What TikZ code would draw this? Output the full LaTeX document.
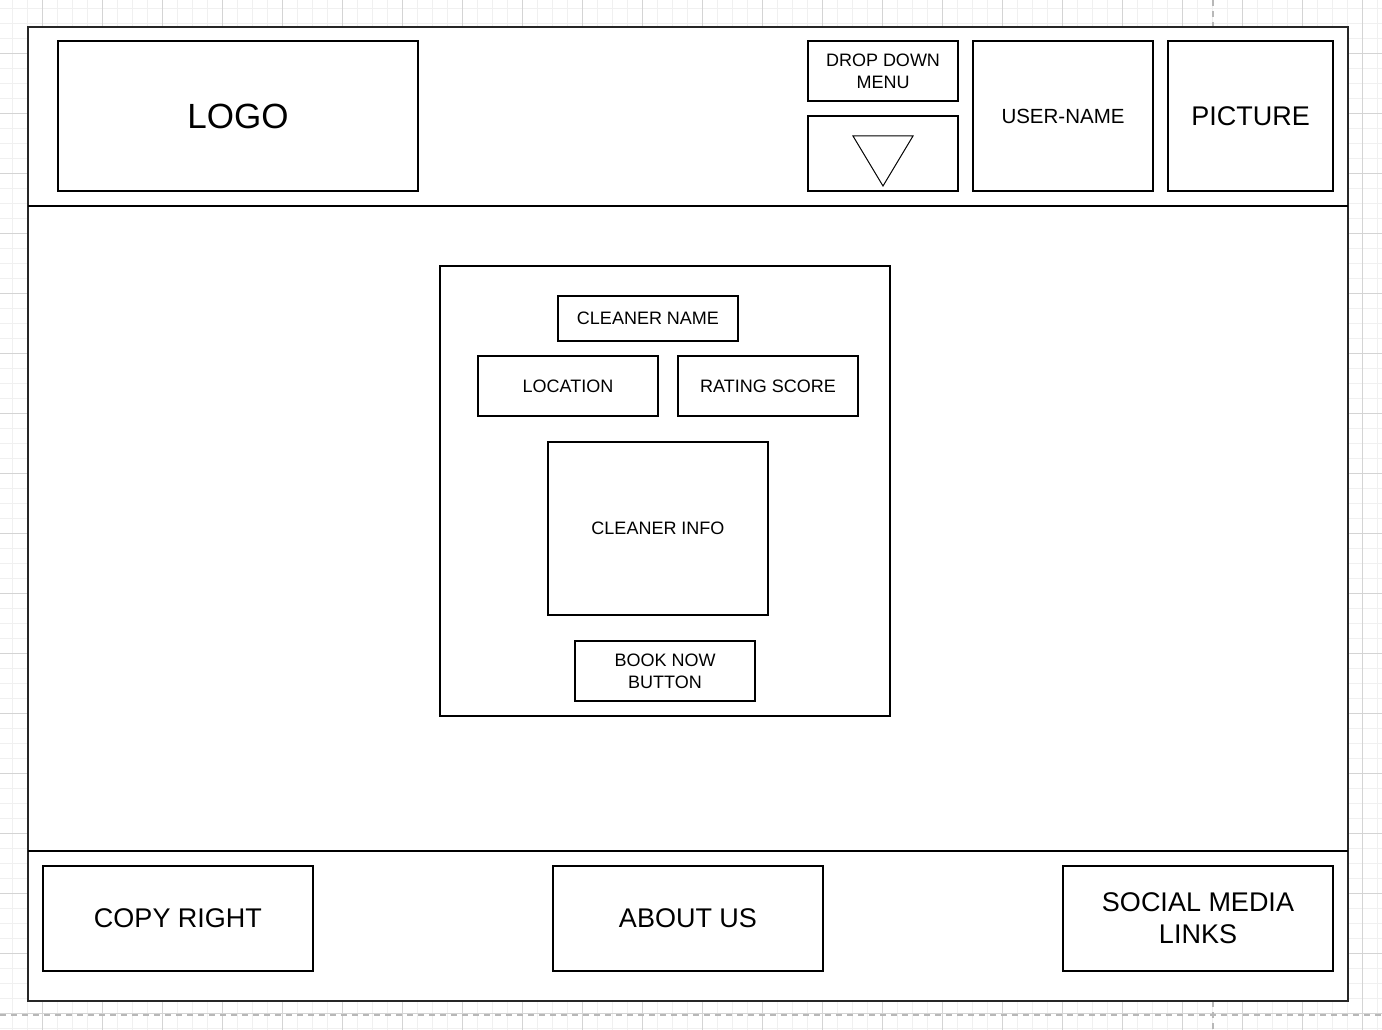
\documentclass[tikz,border=0pt]{standalone}
\usepackage{fontspec}
\setmainfont{Liberation Sans}
\begin{document}
\begin{tikzpicture}[x=1pt,y=-1pt,
  wbox/.style={draw=black, line width=1.2pt, fill=white, inner sep=0pt, outer sep=0pt, align=center},
  fs18/.style={font=\fontsize{18}{22}\selectfont},
  fs21/.style={font=\fontsize{20.5}{24}\selectfont},
  fs27/.style={font=\fontsize{27}{32}\selectfont},
  fs35/.style={font=\fontsize{35}{40}\selectfont},
  minorgrid/.style={draw=black!6, line width=0.8pt},
  majorgrid/.style={draw=black!17, line width=0.8pt},
  pageline/.style={draw=black!28, line width=1.2pt, dash pattern=on 6pt off 5pt}]
\useasboundingbox (0,0) rectangle (1382,1030);
\fill[white] (0,0) rectangle (1382,1030);
% grid
\foreach \gx in {12,27,...,1382} \draw[minorgrid] (\gx,0) -- (\gx,1030);
\foreach \gy in {8,23,...,1030} \draw[minorgrid] (0,\gy) -- (1382,\gy);
\foreach \gx in {42,102,...,1382} \draw[majorgrid] (\gx,0) -- (\gx,1030);
\foreach \gy in {53,113,...,1030} \draw[majorgrid] (0,\gy) -- (1382,\gy);
\draw[pageline] (0,1015) -- (1382,1015);
\draw[pageline] (1213,0) -- (1213,1030);
% outer frame
\node[wbox, line width=1.6pt, draw=black!85, minimum width=1320pt, minimum height=974pt] (frame) at (688,514) {};
\coordinate (hdL) at (28,206); \coordinate (hdR) at (1348,206);
\coordinate (ftL) at (28,851); \coordinate (ftR) at (1348,851);
\draw[line width=1.2pt] (hdL) -- (hdR);
\draw[line width=1.2pt] (ftL) -- (ftR);
% header
\node[wbox, fs35, minimum width=360pt, minimum height=150pt] (logo) at (238,116) {LOGO};
\node[wbox, fs18, minimum width=150pt, minimum height=60pt] (ddm) at (883,71) {DROP DOWN\\MENU};
\node[wbox, minimum width=150pt, minimum height=75pt] (ddbox) at (883,153.5) {};
\coordinate (t1) at (853,136); \coordinate (t2) at (913,136); \coordinate (t3) at (883,186);
\draw[line width=1pt] (t1) -- (t2) -- (t3) -- cycle;
\node[wbox, fs21, minimum width=180pt, minimum height=150pt] (user) at (1063,116) {USER-NAME};
\node[wbox, fs27, minimum width=165pt, minimum height=150pt] (pic) at (1250.5,116) {PICTURE};
% card
\node[wbox, minimum width=450pt, minimum height=450pt] (card) at (665,491) {};
\node[wbox, fs18, minimum width=180pt, minimum height=45pt] (cname) at (648,318.5) {CLEANER NAME};
\node[wbox, fs18, minimum width=180pt, minimum height=60pt] (loc) at (568,386) {LOCATION};
\node[wbox, fs18, minimum width=180pt, minimum height=60pt] (rate) at (768,386) {RATING SCORE};
\node[wbox, fs18, minimum width=220pt, minimum height=173pt] (info) at (658,528.5) {CLEANER INFO};
\node[wbox, fs18, minimum width=180pt, minimum height=60pt] (book) at (665,671) {BOOK NOW\\BUTTON};
% footer
\node[wbox, fs27, minimum width=270pt, minimum height=105pt] (copy) at (178,918.5) {COPY RIGHT};
\node[wbox, fs27, minimum width=270pt, minimum height=105pt] (about) at (688,918.5) {ABOUT US};
\node[wbox, fs27, minimum width=270pt, minimum height=105pt] (social) at (1198,918.5) {SOCIAL MEDIA\\LINKS};
\end{tikzpicture}
\end{document}
